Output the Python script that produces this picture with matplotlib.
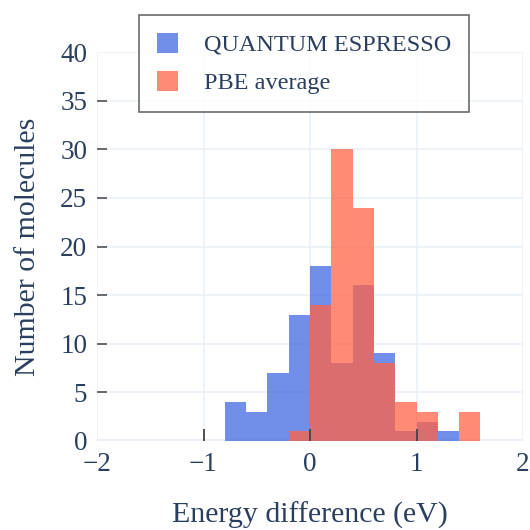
import matplotlib
matplotlib.use("Agg")
import matplotlib.pyplot as plt
import numpy as np

plt.rcParams['font.family'] = ['Liberation Serif', 'DejaVu Serif']

# histogram bins (left edges, width 0.2 eV) and counts
bin_left = [-0.8, -0.6, -0.4, -0.2, 0.0, 0.2, 0.4, 0.6, 0.8, 1.0, 1.2, 1.4]
qe_counts = [4, 3, 7, 13, 18, 8, 16, 9, 1, 2, 1, 0]
pbe_counts = [0, 0, 0, 1, 14, 30, 24, 8, 4, 3, 0, 3]
bin_width = 0.2

x_ticks = [-2, -1, 0, 1, 2]
y_ticks = [0, 5, 10, 15, 20, 25, 30, 35, 40]

txt = '#2a3f5f'
grid = '#ebf0f8'

fig = plt.figure(figsize=(5.3, 5.3), dpi=100)
ax = fig.add_axes([97/530, 1-441/530, 426/530, 389/530])

# grid drawn by hand so the tick marks can sit on top of the bars
for xv in x_ticks:
    ax.axvline(xv, color=grid, linewidth=1.2, zorder=0)
for yv in y_ticks:
    ax.axhline(yv, color=grid, linewidth=1.2, zorder=0)
ax.axhline(0, color=grid, linewidth=3, zorder=1)

ax.bar(bin_left, qe_counts, width=bin_width, align='edge', color='royalblue',
       alpha=0.75, linewidth=0, label='QUANTUM ESPRESSO', zorder=2)
ax.bar(bin_left, pbe_counts, width=bin_width, align='edge', color='tomato',
       alpha=0.75, linewidth=0, label='PBE average', zorder=3)

ax.set_xlim(-2, 2)
ax.set_ylim(0, 40)
ax.set_xticks(x_ticks)
ax.set_yticks(y_ticks)
ax.set_xticklabels([str(t).replace('-', '\u2212') for t in x_ticks])
for s in ax.spines.values():
    s.set_visible(False)
ax.xaxis.set_zorder(5)
ax.yaxis.set_zorder(5)
ax.tick_params(direction='in', length=9, width=1.3, color='#444444',
               labelcolor=txt, labelsize=19.5)
ax.tick_params(axis='x', pad=8)
ax.tick_params(axis='y', pad=7, length=7, width=1.1)
# no tick marks at the ends of the axes
for tk in (ax.xaxis.get_major_ticks()[0], ax.xaxis.get_major_ticks()[-1],
           ax.yaxis.get_major_ticks()[0], ax.yaxis.get_major_ticks()[-1]):
    tk.tick1line.set_visible(False)

ax.set_xlabel('Energy difference (eV)', fontsize=21.5, color=txt, labelpad=18)
ax.set_ylabel('Number of molecules', fontsize=21.5, color=txt, labelpad=14)

leg = fig.legend(loc='upper left', bbox_to_anchor=(139/530, 1-15/530),
                 fontsize=17.5, frameon=True, fancybox=False, borderpad=0.72,
                 handlelength=0.9, handleheight=0.9, handletextpad=1.05,
                 labelspacing=0.6, borderaxespad=0)
leg.get_frame().set_edgecolor('#444444')
leg.get_frame().set_linewidth(1.2)
for t in leg.get_texts():
    t.set_color(txt)

fig.savefig('out.png', dpi=100)
